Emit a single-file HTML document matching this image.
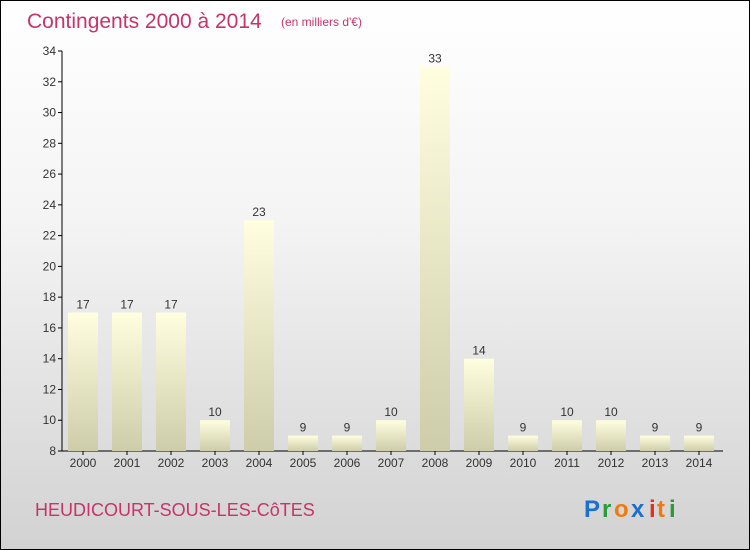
<!DOCTYPE html>
<html><head><meta charset="utf-8"><style>
body{margin:0}
#c{position:relative;width:748px;height:548px;border:1px solid #000;background:linear-gradient(#ffffff,#f4f4f4 40%,#d2d2d2);font-family:"Liberation Sans",sans-serif;overflow:hidden}
</style></head><body>
<div id="c">
<svg width="748" height="548" style="position:absolute;left:0;top:0" id="s">
<defs><linearGradient id="bg" x1="0" y1="0" x2="0" y2="1"><stop offset="0" stop-color="#ffffe0"/><stop offset="1" stop-color="#cdcdaa"/></linearGradient></defs>
<text x="26" y="27" font-size="21" fill="#c8336a">Contingents 2000 à 2014</text>
<text x="280" y="25" font-size="12" fill="#c8336a">(en milliers d'€)</text>
<text x="34" y="515" font-size="18" fill="#c8336a">HEUDICOURT-SOUS-LES-CôTES</text>
<g font-size="24" font-weight="bold">
<text x="583" y="516" fill="#1a6fd0">P</text><text x="601" y="516" fill="#2a9a3a">r</text><text x="613" y="516" fill="#f07a10">o</text><text x="630" y="516" fill="#1a6fd0">x</text><text x="648" y="516" fill="#e03020">i</text><text x="656" y="516" fill="#f07a10">t</text><text x="668" y="516" fill="#2a9a3a">i</text>
</g>
<g id="plot"></g>
</svg>
</div>
<script>
const years=["2000","2001","2002","2003","2004","2005","2006","2007","2008","2009","2010","2011","2012","2013","2014"];
const values=[17,17,17,10,23,9,9,10,33,14,9,10,10,9,9];
const yTicks=[8,10,12,14,16,18,20,22,24,26,28,30,32,34];
const ns="http://www.w3.org/2000/svg";
const g=document.getElementById('plot');
const y=v=>450-(v-8)*400/26;
const x=i=>82+i*44;
function mk(t,a){const e=document.createElementNS(ns,t);for(const k in a)e.setAttribute(k,a[k]);g.appendChild(e);return e;}
let ax=mk('line',{x1:61,y1:50,x2:61,y2:450,stroke:'#000'});


let bx=mk('line',{x1:61,y1:450,x2:722,y2:450,stroke:'#000'});


yTicks.forEach(v=>{
 let l=mk('line',{x1:57,y1:y(v),x2:61,y2:y(v),stroke:'#000'});
 
 
 let t=mk('text',{x:55,y:y(v)+4,'font-size':12,'text-anchor':'end',fill:'#333'});t.textContent=v;
 
 
});
years.forEach((yr,i)=>{
 let tk=mk('line',{x1:x(i),y1:450,x2:x(i),y2:454,stroke:'#000'});
 
 
 let b=mk('rect',{x:x(i)-15,y:y(values[i]),width:30,height:450-y(values[i]),fill:'url(#bg)'});
 
 
 let v=mk('text',{x:x(i),y:y(values[i])-4,'font-size':12,'text-anchor':'middle',fill:'#333'});v.textContent=values[i];
 
 
 let t=mk('text',{x:x(i),y:466,'font-size':12,'text-anchor':'middle',fill:'#333'});t.textContent=yr;
 
 
});
</script>
</body></html>
